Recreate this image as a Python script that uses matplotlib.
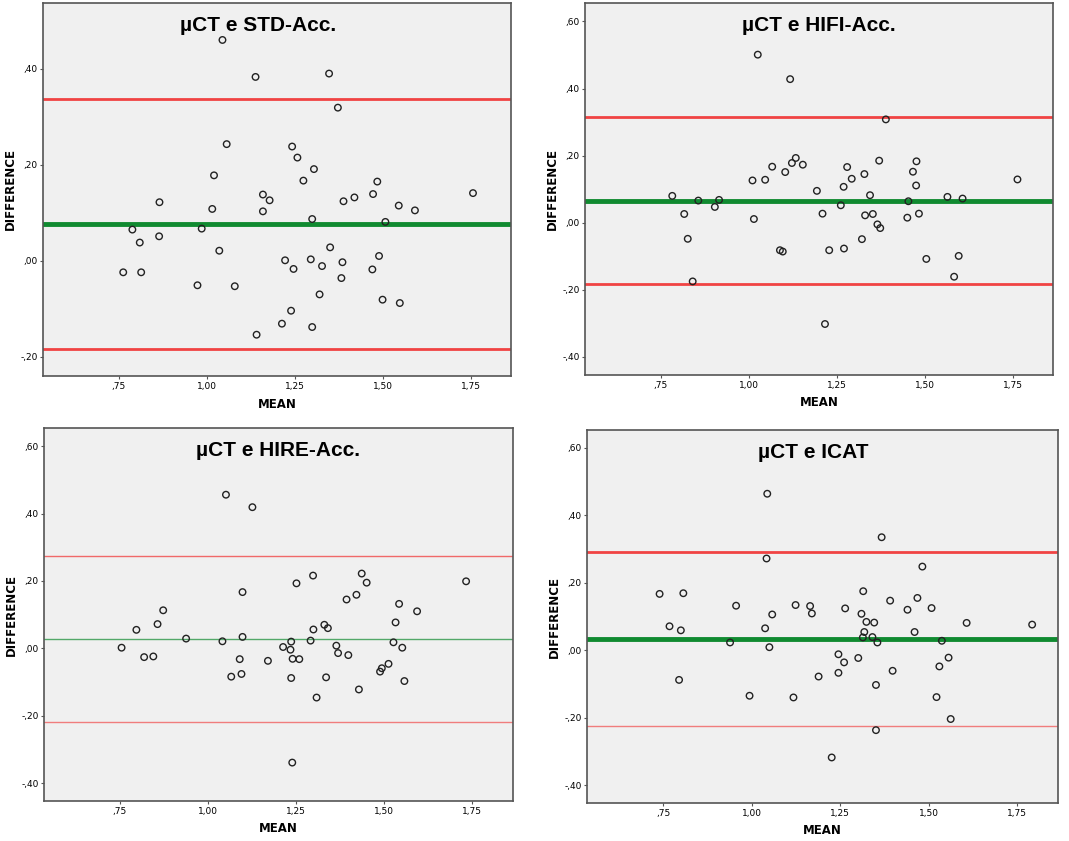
import numpy as np
import matplotlib.pyplot as plt
from matplotlib.ticker import FuncFormatter

# --- data ---
titles = ["µCT e STD-Acc.", "µCT e HIFI-Acc.", "µCT e HIRE-Acc.", "µCT e ICAT"]

std_mean = [1.045, 1.139, 1.348, 1.373, 1.057, 1.243, 1.258, 1.305, 1.021, 1.275, 1.485, 1.160,
            1.473, 1.757, 1.179, 1.420, 1.389, 0.866, 1.546, 1.016, 1.592, 1.160, 1.300, 1.508,
            0.789, 0.986, 0.865, 0.810, 1.351, 1.036, 1.490, 1.223, 1.296, 1.386, 1.328, 1.247,
            1.471, 0.763, 0.814, 1.383, 0.974, 1.080, 1.321, 1.500, 1.549, 1.240, 1.214, 1.300, 1.142]
std_diff = [0.460, 0.383, 0.390, 0.319, 0.243, 0.238, 0.215, 0.191, 0.178, 0.167, 0.165, 0.138,
            0.139, 0.141, 0.126, 0.132, 0.124, 0.122, 0.115, 0.108, 0.105, 0.103, 0.087, 0.081,
            0.065, 0.067, 0.051, 0.038, 0.028, 0.021, 0.010, 0.001, 0.003, -0.003, -0.011, -0.017,
            -0.018, -0.024, -0.024, -0.036, -0.051, -0.053, -0.070, -0.081, -0.088, -0.104, -0.131, -0.138, -0.154]

hifi_mean = [1.026, 1.118, 1.390, 1.134, 1.371, 1.477, 1.123, 1.154, 1.067, 1.280, 1.104, 1.467,
             1.329, 1.293, 1.011, 1.047, 1.764, 1.476, 1.270, 1.194, 0.783, 1.345, 1.565, 1.608,
             0.916, 0.857, 1.454, 0.904, 1.262, 0.817, 1.210, 1.353, 1.484, 1.331, 1.451, 1.015,
             1.366, 1.374, 0.827, 1.322, 1.271, 1.089, 1.097, 1.229, 1.505, 1.597, 1.584, 0.841, 1.217]
hifi_diff = [0.501, 0.428, 0.308, 0.193, 0.185, 0.183, 0.178, 0.173, 0.167, 0.166, 0.151, 0.152,
             0.145, 0.131, 0.126, 0.128, 0.129, 0.111, 0.107, 0.095, 0.080, 0.082, 0.077, 0.072,
             0.068, 0.066, 0.064, 0.047, 0.052, 0.026, 0.027, 0.026, 0.027, 0.022, 0.015, 0.011,
             -0.005, -0.016, -0.048, -0.049, -0.077, -0.082, -0.086, -0.082, -0.108, -0.099, -0.161, -0.175, -0.302]

hire_mean = [1.051, 1.126, 1.298, 1.436, 1.251, 1.450, 1.732, 1.098, 1.421, 1.393, 1.542, 0.873,
             1.593, 1.532, 0.857, 1.330, 1.340, 0.797, 1.299, 0.938, 1.098, 1.041, 1.236, 1.291,
             1.526, 1.364, 0.755, 1.213, 1.551, 1.234, 1.369, 1.398, 0.819, 0.845, 1.090, 1.240,
             1.259, 1.170, 1.512, 1.493, 1.488, 1.066, 1.095, 1.236, 1.335, 1.557, 1.428, 1.308, 1.239]
hire_diff = [0.456, 0.419, 0.216, 0.222, 0.193, 0.195, 0.199, 0.167, 0.159, 0.145, 0.132, 0.113,
             0.110, 0.077, 0.072, 0.070, 0.060, 0.055, 0.056, 0.029, 0.034, 0.021, 0.020, 0.023,
             0.018, 0.008, 0.002, 0.004, 0.002, -0.004, -0.014, -0.020, -0.026, -0.024, -0.032, -0.031,
             -0.032, -0.037, -0.046, -0.059, -0.069, -0.084, -0.076, -0.088, -0.086, -0.097, -0.122, -0.146, -0.339]

icat_mean = [1.044, 1.367, 1.042, 1.482, 1.315, 0.740, 0.807, 1.468, 1.391, 0.956, 1.124, 1.165,
             1.264, 1.440, 1.508, 1.058, 1.170, 1.310, 1.324, 1.346, 1.607, 1.792, 0.768, 1.038,
             0.800, 1.318, 1.460, 1.314, 1.341, 1.537, 0.939, 1.355, 1.050, 1.245, 1.301, 1.556,
             1.261, 1.530, 1.398, 1.245, 1.189, 0.795, 1.351, 0.994, 1.118, 1.522, 1.562, 1.351, 1.226]
icat_diff = [0.464, 0.335, 0.272, 0.248, 0.175, 0.167, 0.169, 0.155, 0.147, 0.132, 0.134, 0.131,
             0.124, 0.120, 0.125, 0.106, 0.109, 0.108, 0.084, 0.082, 0.081, 0.076, 0.071, 0.065,
             0.059, 0.054, 0.054, 0.038, 0.039, 0.028, 0.023, 0.023, 0.009, -0.012, -0.023, -0.022,
             -0.036, -0.048, -0.061, -0.067, -0.078, -0.088, -0.103, -0.135, -0.140, -0.139, -0.204, -0.237, -0.318]

# bias (green) and limits of agreement (red)
bias = [0.077, 0.0655, 0.028, 0.033]
upper_loa = [0.336, 0.315, 0.273, 0.291]
lower_loa = [-0.183, -0.183, -0.218, -0.225]

means = [std_mean, hifi_mean, hire_mean, icat_mean]
diffs = [std_diff, hifi_diff, hire_diff, icat_diff]

# --- layout (figure pixels: left, right, top, bottom) ---
W, H = 1069, 841
boxes = [(43, 511, 3, 376), (585, 1053, 3, 375), (44, 513, 428, 801), (587, 1058, 430, 803)]
ylims = [(-0.24, 0.537), (-0.454, 0.655), (-0.453, 0.654), (-0.453, 0.653)]
yticks = [[-0.2, 0.0, 0.2, 0.4], [-0.4, -0.2, 0.0, 0.2, 0.4, 0.6],
          [-0.4, -0.2, 0.0, 0.2, 0.4, 0.6], [-0.4, -0.2, 0.0, 0.2, 0.4, 0.6]]
line_w = [(2.0, 3.5, 2.0), (2.0, 3.5, 2.0), (1.0, 1.0, 1.0), (2.0, 3.5, 1.0)]
title_x = [0.46, 0.5, 0.5, 0.48]


def comma_fmt(v, pos):
    s = f"{v:.2f}".replace(".", ",")
    if s.startswith("0,"):
        s = s[1:]
    elif s.startswith("-0,"):
        s = "-" + s[2:]
    if s == "-,00":
        s = ",00"
    return s


fig = plt.figure(figsize=(W / 100, H / 100), dpi=100)

for i in range(4):
    l, r, t, b = boxes[i]
    ax = fig.add_axes([l / W, 1 - b / H, (r - l) / W, (b - t) / H])
    ax.set_facecolor("#f0f0f0")
    for sp in ax.spines.values():
        sp.set_color("#555555")
        sp.set_linewidth(1.2)

    w_up, w_bias, w_low = line_w[i]
    ax.axhline(upper_loa[i], color="#f03030", lw=w_up, alpha=0.9 if w_up > 1 else 0.7)
    ax.axhline(lower_loa[i], color="#f03030", lw=w_low, alpha=0.9 if w_low > 1 else 0.6)
    ax.axhline(bias[i], color="#108a30", lw=w_bias, alpha=1.0 if w_bias > 1 else 0.7)

    ax.scatter(means[i], diffs[i], s=22, facecolors="none", edgecolors="#222222",
               linewidths=1.0, zorder=3)

    ax.set_xlim(0.535, 1.865)
    ax.set_ylim(*ylims[i])
    ax.set_xticks([0.75, 1.0, 1.25, 1.5, 1.75])
    ax.set_yticks(yticks[i])
    ax.xaxis.set_major_formatter(FuncFormatter(comma_fmt))
    ax.yaxis.set_major_formatter(FuncFormatter(comma_fmt))
    ax.tick_params(labelsize=6.5, length=2.5, pad=1.5, color="#555555")

    ax.set_xlabel("MEAN", fontsize=8.5, fontweight="bold", labelpad=5)
    ax.set_ylabel("DIFFERENCE", fontsize=8.5, fontweight="bold", labelpad=2)
    ax.text(title_x[i], 0.94, titles[i], transform=ax.transAxes, ha="center", va="center",
            fontsize=15, fontweight="bold", family=["Liberation Sans", "DejaVu Sans"])

fig.savefig("out.png", dpi=100, facecolor="white")
